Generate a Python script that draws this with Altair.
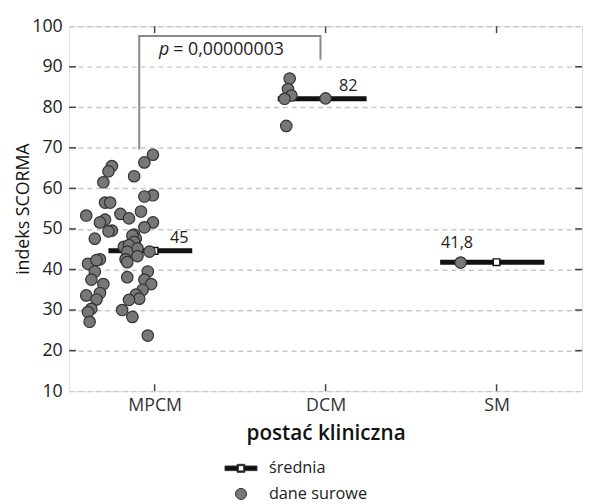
import altair as alt
import pandas as pd

# ---------------- data ----------------
categories = ["MPCM", "DCM", "SM"]

mpcm_offset = [-0.01, -0.06, -0.25, -0.27, -0.12, -0.30, -0.01, -0.06, -0.29, -0.26,
               -0.40, -0.08, -0.20, -0.15, -0.29, -0.32, -0.01, -0.06, -0.25, -0.27,
               -0.35, -0.12, -0.11, -0.13, -0.12, -0.18, -0.15, -0.10, -0.16, -0.10,
               -0.03, -0.17, -0.16, -0.39, -0.32, -0.34, -0.35, -0.16, -0.04, -0.37,
               -0.30, -0.06, -0.02, -0.07, -0.32, -0.40, -0.11, -0.34, -0.09, -0.15,
               -0.37, -0.39, -0.19, -0.13, -0.38, -0.04]
mpcm_values = [68.3, 66.4, 65.5, 64.2, 63.0, 61.5, 58.3, 58.0, 56.5, 56.5,
               53.3, 54.3, 53.7, 52.6, 52.3, 51.6, 51.6, 50.4, 49.6, 49.4,
               47.6, 48.6, 47.6, 48.4, 46.8, 45.6, 46.0, 45.2, 44.4, 43.3,
               44.4, 42.5, 41.8, 41.4, 42.5, 42.3, 39.5, 38.1, 39.5, 37.5,
               36.4, 37.5, 36.4, 35.0, 34.2, 33.6, 33.8, 32.6, 32.8, 32.5,
               30.3, 29.5, 30.0, 28.3, 27.1, 23.7]

dcm_offset = [-0.21, -0.22, -0.20, -0.24, 0.00, -0.23]
dcm_values = [87.1, 84.5, 82.9, 82.1, 82.2, 75.4]

sm_offset = [-0.21]
sm_values = [41.7]

mean_values = [44.6, 82.1, 41.8]
mean_labels = ["45", "82", "41,8"]
mean_line_start = [0.73, 1.72, 2.67]
mean_line_end = [1.22, 2.24, 3.28]

p_label_italic = "p"
p_label_rest = "= 0,00000003"
y_ticks = [10, 20, 30, 40, 50, 60, 70, 80, 90, 100]

legend_labels = ["średnia", "dane surowe"]

# ---------------- tables ----------------
rows = []
for off, v in zip(mpcm_offset, mpcm_values):
    rows.append({"x": 1 + off, "y": v})
for off, v in zip(dcm_offset, dcm_values):
    rows.append({"x": 2 + off, "y": v})
for off, v in zip(sm_offset, sm_values):
    rows.append({"x": 3 + off, "y": v})
points = pd.DataFrame(rows)
points["series"] = legend_labels[1]

means = pd.DataFrame({
    "x": [1, 2, 3],
    "x1": mean_line_start,
    "x2": mean_line_end,
    "y": mean_values,
    "label": mean_labels,
})

bracket = pd.DataFrame({
    "x": [0.91, 0.91, 1.97, 1.97],
    "y": [69.6, 97.6, 97.6, 91.7],
    "o": [0, 1, 2, 3],
})

FONT = "Open Sans"
xscale = alt.Scale(domain=[0.5, 3.5], nice=False, zero=False)
yscale = alt.Scale(domain=[10, 100], nice=False, zero=False)

label_expr = "datum.value == 1 ? '%s' : datum.value == 2 ? '%s' : '%s'" % tuple(categories)

xaxis = alt.Axis(values=[1, 2, 3], labelExpr=label_expr, title="postać kliniczna",
                 grid=False, domain=False, ticks=False, labelFontSize=18,
                 labelColor="#333", labelPadding=6, titleFontSize=21,
                 titleFontWeight=600, titleColor="#111", titlePadding=8,
                 labelFont=FONT, titleFont=FONT)
yaxis = alt.Axis(values=y_ticks, title="indeks SCORMA", grid=True, gridDash=[5, 4],
                 gridColor="#c8c8c8", gridWidth=1.5, domain=False, ticks=False,
                 labelFontSize=18, labelColor="#222", labelPadding=7,
                 titleFontSize=18, titleFontWeight="normal", titleColor="#111",
                 titleX=-46, titleY=185, titleAngle=270, titleBaseline="middle",
                 titleAlign="center", labelFont=FONT, titleFont=FONT)

base = alt.Chart(means)

mean_rules = base.mark_rule(color="#111", strokeWidth=5).encode(
    x=alt.X("x1:Q", scale=xscale, axis=xaxis),
    x2="x2:Q",
    y=alt.Y("y:Q", scale=yscale, axis=yaxis),
)

mean_squares = base.mark_point(shape="square", filled=True, fill="white",
                               stroke="#111", strokeWidth=1.5, size=45, opacity=1).encode(
    x=alt.X("x:Q", scale=xscale), y=alt.Y("y:Q", scale=yscale))

line_sym = ("M-2.9,-0.42 L-0.7,-0.42 L-0.7,-0.72 L0.7,-0.72 L0.7,-0.42 L2.9,-0.42 "
            "L2.9,0.42 L0.7,0.42 L0.7,0.72 L-0.7,0.72 L-0.7,0.42 L-2.9,0.42 Z "
            "M-0.48,-0.48 L-0.48,0.48 L0.48,0.48 L0.48,-0.48 Z")

legend = alt.Legend(title=None, orient="none", legendX=166, legendY=440,
                    symbolSize=125, labelFontSize=16.5, labelFont=FONT,
                    labelColor="#222", labelOffset=20, rowPadding=9, padding=0,
                    symbolStrokeColor="#333", symbolStrokeWidth=1)

pts = alt.Chart(points).mark_point(filled=True, stroke="#333", strokeWidth=1.2,
                                   size=135, opacity=1).encode(
    x=alt.X("x:Q", scale=xscale),
    y=alt.Y("y:Q", scale=yscale),
    color=alt.Color("series:N", scale=alt.Scale(domain=legend_labels,
                                                range=["#111", "#777"]), legend=legend),
    shape=alt.Shape("series:N", scale=alt.Scale(domain=legend_labels,
                                                range=[line_sym, "circle"]), legend=legend),
)

br = alt.Chart(bracket).mark_line(color="#888", strokeWidth=2).encode(
    x=alt.X("x:Q", scale=xscale), y=alt.Y("y:Q", scale=yscale), order="o:Q")

label_shift = {0: (25, -8), 1: (23, -8), 2: (-40, -14)}
label_layers = []
for i in range(3):
    dx, dy = label_shift[i]
    label_layers.append(
        alt.Chart(means.iloc[[i]]).mark_text(font=FONT, fontSize=16.5, color="#222",
                                             dx=dx, dy=dy, baseline="alphabetic").encode(
            x=alt.X("x:Q", scale=xscale), y=alt.Y("y:Q", scale=yscale), text="label:N"))

ptxt1 = alt.Chart(pd.DataFrame({"x": [1.086], "y": [92.95], "t": [p_label_italic]})).mark_text(
    font=FONT, fontSize=18, fontStyle="italic", color="#222", align="right",
    baseline="alphabetic").encode(x=alt.X("x:Q", scale=xscale), y=alt.Y("y:Q", scale=yscale), text="t:N")
ptxt2 = alt.Chart(pd.DataFrame({"x": [1.109], "y": [92.95], "t": [p_label_rest]})).mark_text(
    font=FONT, fontSize=18, color="#222", align="left",
    baseline="alphabetic").encode(x=alt.X("x:Q", scale=xscale), y=alt.Y("y:Q", scale=yscale), text="t:N")

# inward tick marks
yt = pd.DataFrame({"y": y_ticks[1:-1]})
lt = alt.Chart(yt).mark_rule(color="#444", strokeWidth=1.5).encode(
    x=alt.value(0), x2=alt.value(7), y=alt.Y("y:Q", scale=yscale))
rt = alt.Chart(yt).mark_rule(color="#444", strokeWidth=1.5).encode(
    x=alt.value(513), x2=alt.value(520), y=alt.Y("y:Q", scale=yscale))
ct = pd.DataFrame({"x": [1, 2, 3]})
bt = alt.Chart(ct).mark_rule(color="#444", strokeWidth=1.5).encode(
    x=alt.X("x:Q", scale=xscale), y=alt.value(370), y2=alt.value(363))
tt = alt.Chart(ct).mark_rule(color="#444", strokeWidth=1.5).encode(
    x=alt.X("x:Q", scale=xscale), y=alt.value(0), y2=alt.value(7))

chart = alt.layer(mean_rules, mean_squares, pts, br, *label_layers, ptxt1, ptxt2,
                  lt, rt, bt, tt).properties(
    width=520, height=370,
    autosize=alt.AutoSizeParams(type="none"),
    padding={"left": 62, "top": 15, "right": 2, "bottom": 111},
).configure_view(stroke="#444", strokeWidth=1.5).configure(background="white")

chart.save("out.html", embed_options={"renderer": "svg", "actions": False})
